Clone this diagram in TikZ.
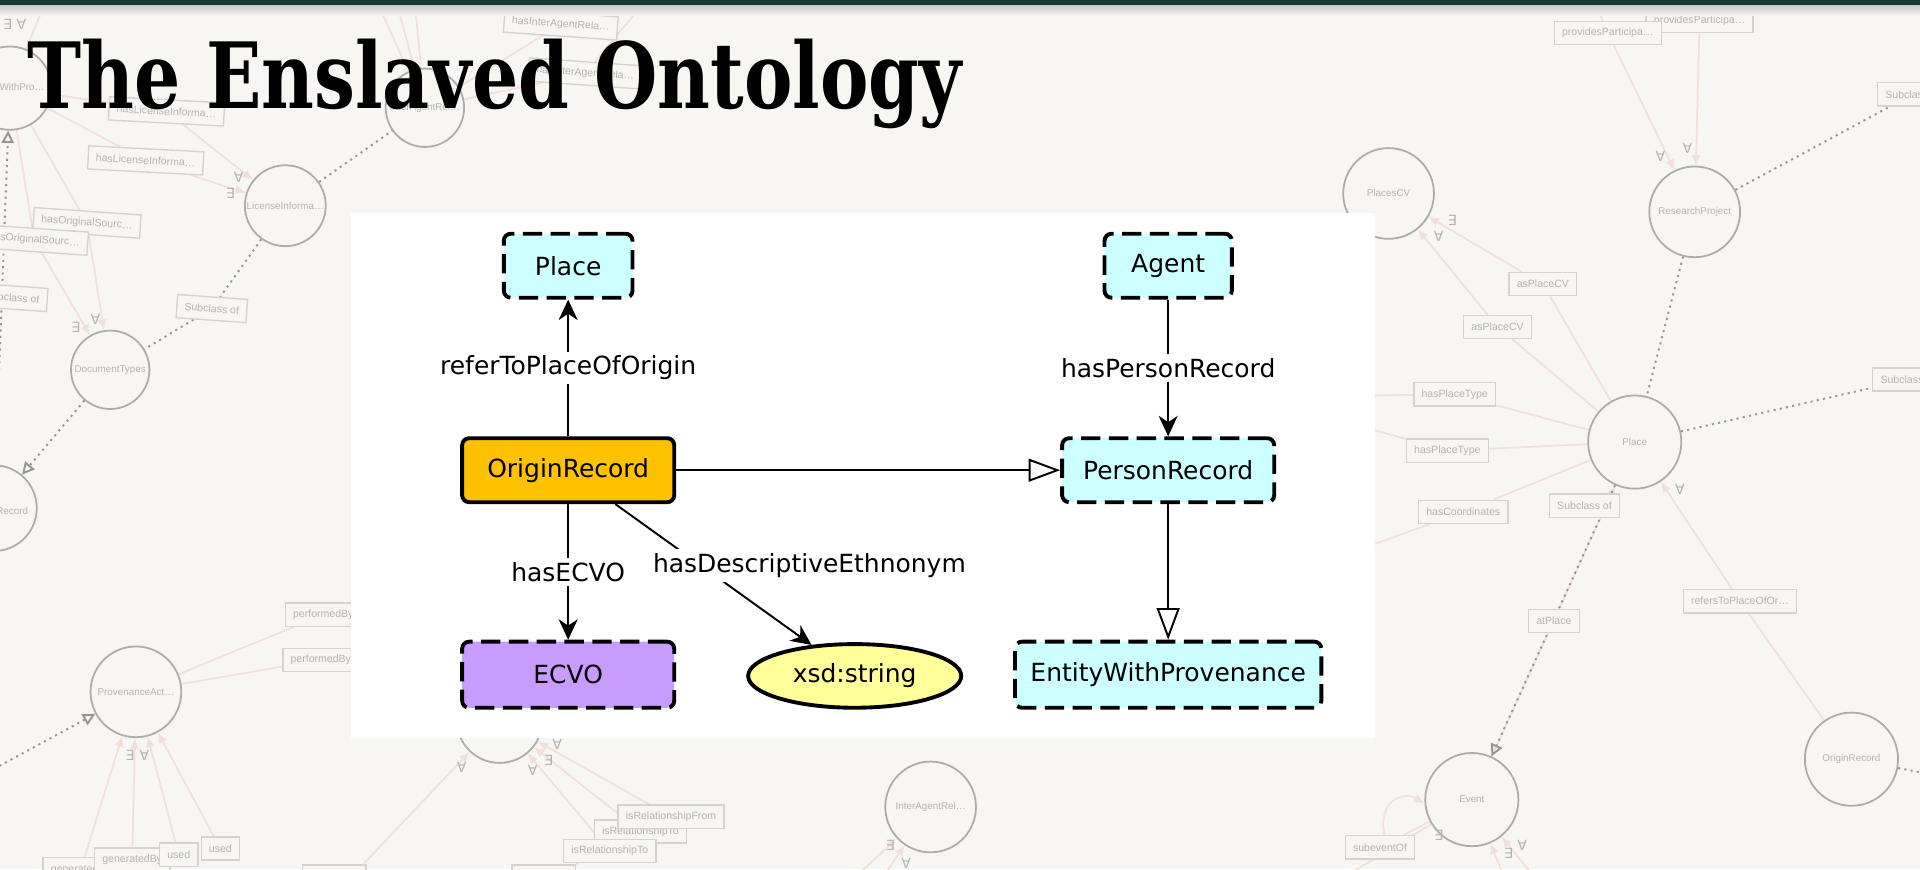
\documentclass[tikz,border=0pt]{standalone}
\usepackage{fontspec}
\usepackage{graphicx}
\usetikzlibrary{arrows.meta,shapes.geometric,positioning}
\setmainfont{DejaVu Sans}
\newfontfamily\slabfont{DejaVu Serif}
\newfontfamily\vowlfont{Liberation Sans}
\newfontfamily\quantfont{DejaVu Sans}

\definecolor{slidebg}{RGB}{248,246,243}
\definecolor{slidebar}{RGB}{23,56,54}
\definecolor{vowlring}{RGB}{172,172,170}
\definecolor{vowltext}{RGB}{182,180,178}
\definecolor{vowlframe}{RGB}{214,210,207}
\definecolor{vowlprop}{RGB}{241,224,218}
\definecolor{vowldots}{RGB}{150,150,150}
\definecolor{owlcyan}{RGB}{204,255,255}
\definecolor{owlgold}{RGB}{255,194,0}
\definecolor{owlpurple}{RGB}{200,155,255}
\definecolor{owlyellow}{RGB}{255,255,153}

\pgfdeclarelayer{back}
\pgfdeclarelayer{links}
\pgfsetlayers{back,links,main}

\tikzset{
  vowlclass/.style={circle, draw=vowlring, line width=0.5pt, fill=slidebg, text=vowltext,
    font=\vowlfont\fontsize{2.8}{3}\selectfont, inner sep=0pt},
  vowlbox/.style={rectangle, draw=vowlframe, line width=0.4pt, fill=slidebg, text=vowltext,
    font=\vowlfont\fontsize{3}{3.4}\selectfont, minimum height=6.6pt, inner xsep=2.2pt, inner ysep=0pt},
  vowlq/.style={text=vowltext, font=\quantfont\fontsize{4}{4}\selectfont, inner sep=0pt},
  vowlline/.style={draw=vowlprop, line width=0.5pt},
  vowlarrow/.style={vowlline, -{Latex[length=3pt,width=2.6pt]}},
  vowlsub/.style={draw=vowldots, line width=0.55pt, dash pattern=on 0.6pt off 1.2pt},
  vowltri/.style={vowlsub, -{Triangle[open,length=3.5pt,width=3.5pt]}},
  owlbox/.style={rectangle, rounded corners=2pt, draw=black, line width=1.1pt,
    font=\fontsize{7.1}{8.5}\selectfont, inner sep=0pt, minimum height=18.2pt},
  owldashed/.style={owlbox, dash pattern=on 5.5pt off 2.4pt, fill=owlcyan},
  owllbl/.style={fill=white, inner sep=1.2pt, font=\fontsize{7.1}{8.5}\selectfont},
  owledge/.style={draw=black, line width=0.55pt},
  owlarrow/.style={owledge, -{Stealth[length=5.8pt,width=5.4pt,inset=1.8pt]}},
  owlsub/.style={owledge, -{Triangle[length=9pt,width=6.5pt,fill=white]}}
}

\begin{document}
\begin{tikzpicture}[x=0.012245cm,y=-0.012245cm]
\useasboundingbox (0,0) rectangle (1568,710);
\clip (0,0) rectangle (1568,710);
\begin{pgfonlayer}{back}
  \fill[slidebg] (0,0) rectangle (1568,710);
\end{pgfonlayer}

\foreach \n/\x/\y/\d/\t in {
  ewp/8/72/23.7pt/EntityWithPro\ldots,
  licinfo/233/168/23pt/LicenseInforma\ldots,
  doctypes/90/302/22.3pt/DocumentTypes,
  record/-5/415/24.4pt/,
  interagent1/347/88/22.3pt/InterAgentRel\ldots,
  provact/111/565/25.8pt/ProvenanceAct\ldots,
  midcirc/408/588/24.4pt/,
  interagent2/760/659/25.8pt/InterAgentRel\ldots,
  placescv/1134/158/25.8pt/PlacesCV,
  research/1384/173/25.8pt/ResearchProject,
  placebg/1335/361/26.5pt/Place,
  event/1202/653/26.5pt/Event,
  originbg/1512/620/26.5pt/OriginRecord}
  \node[vowlclass, minimum size=\d] (\n) at (\x,\y) {\t};
\node[vowlq, font=\vowlfont\fontsize{2.8}{3}\selectfont] (recordname) at (10,417) {Record};

\coordinate (top1) at (40,-5);
\coordinate (top2) at (305,-5);
\coordinate (top3) at (322,-5);
\coordinate (top4) at (338,-5);
\coordinate (top5) at (512,-5);
\coordinate (top6) at (532,-5);
\coordinate (top7) at (1300,-5);
\coordinate (top8) at (1386,-5);
\coordinate (left1) at (-5,628);
\coordinate (bot1) at (288,715);
\coordinate (bot2) at (700,715);
\coordinate (bot3) at (722,715);
\coordinate (bot4) at (1100,715);
\coordinate (bot5) at (1228,715);
\coordinate (bot6) at (1252,715);
\coordinate (right1) at (1575,632);
\coordinate (edge1) at (1118,323);
\coordinate (edge2) at (1118,350);
\coordinate (edge3) at (1118,446);

\foreach \n/\x/\y/\r/\t in {
  lic1/136/91/-3/hasLicenseInforma\ldots,
  lic2/119/131/-3/hasLicenseInforma\ldots,
  orig1/71/182/-4/hasOriginalSourc\ldots,
  orig2/28/196/-4/hasOriginalSourc\ldots,
  sub1/10/243/-4/Subclass of,
  sub2/173/252/-4/Subclass of,
  iar1/458/20/-4/hasInterAgentRela\ldots,
  iar2/478/60/-4/hasInterAgentRela\ldots,
  perf1/264/502/0/performedBy,
  perf2/262/539/0/performedBy,
  gen1/66/710/0/generatedBy,
  gen2/108/702/0/generatedBy,
  used1/146/698/0/used,
  used2/180/693/0/used,
  relto1/523/679/0/isRelationshipTo,
  relfrom/548/667/0/isRelationshipFrom,
  relto2/498/695/0/isRelationshipTo,
  pp2/1388/17/0/providesParticipa\ldots,
  pp1/1313/27/0/providesParticipa\ldots,
  subcla1/1562/77/0/Subclass of,
  aspcv1/1260/232/0/asPlaceCV,
  aspcv2/1223/267/0/asPlaceCV,
  hpt1/1188/322/0/hasPlaceType,
  hpt2/1182/368/0/hasPlaceType,
  hcoord/1195/418/0/hasCoordinates,
  subcl2/1294/413/0/Subclass of,
  subcl3/1558/310/0/Subclass of,
  atplace/1269/507/0/atPlace,
  refers/1421/491/0/refersToPlaceOfOr\ldots,
  subevent/1127/692/0/subeventOf}
  \node[vowlbox, rotate=\r] (\n) at (\x,\y) {\t};
\node[vowlbox, minimum width=18pt] (bx1) at (273,716) {};
\node[vowlbox, minimum width=18pt] (bx2) at (444,716) {};

\foreach \n/\x/\y/\s in {
  qa/12/20/∃ ∀, qb/195/145/∀, qc/188/158/∃, qd/62/267/∃, qe/78/261/∀,
  qf/106/617/∃, qg/118/617/∀, qh/377/627/∀, qi/435/629/∀, qj/448/621/∃,
  qk/455/608/∀, ql/727/690/∃, qm/740/705/∀, qn/1356/128/∀, qo/1378/121/∀,
  qp/1186/180/∃, qq/1175/193/∀, qr/1372/400/∀, qs/1232/697/∃, qt/1243/690/∀,
  qu/1175/682/∃}
  \node[vowlq] (\n) at (\x,\y) {\s};

\begin{pgfonlayer}{links}
  \foreach \a/\b in {ewp/lic1, ewp/lic2, ewp/orig1, ewp/orig2, ewp/top1,
    interagent1/top2, interagent1/top3, interagent1/top4, interagent1/iar1,
    interagent1/iar2, iar1/top5, iar2/top6, provact/perf1, provact/perf2,
    pp1/top7, pp2/top8, placebg/aspcv1, placebg/aspcv2, placebg/hpt1,
    placebg/hpt2, placebg/hcoord, hpt1/edge1, hpt2/edge2, hcoord/edge3,
    originbg/refers, event/atplace, event/subevent, event/bot4, relto2/bx2}
    \draw[vowlline] (\a) -- (\b);
  \foreach \a/\b in {lic1/licinfo, lic2/licinfo, orig1/doctypes, orig2/doctypes,
    gen1/provact, gen2/provact, used1/provact, used2/provact, bot1/midcirc,
    relto2/midcirc, relto1/midcirc, relfrom/midcirc, bot2/interagent2,
    bot3/interagent2, pp1/research, pp2/research, aspcv1/placescv,
    aspcv2/placescv, refers/placebg, atplace/placebg, bot5/event, bot6/event}
    \draw[vowlarrow] (\a) -- (\b);
  \draw[vowlarrow] (subevent.70) .. controls (1125,655) and (1145,645) .. (event.185);
  \foreach \a/\b in {licinfo/sub2, sub2/doctypes, licinfo/interagent1,
    research/subcla1, research/placebg, placebg/subcl3, originbg/right1}
    \draw[vowlsub] (\a) -- (\b);
  \foreach \a/\b in {record/ewp, doctypes/record, left1/provact, placebg/event}
    \draw[vowltri] (\a) -- (\b);
\end{pgfonlayer}

\fill[white] (287,174) rectangle (1123,603);

\node[owldashed, minimum width=36.6pt] (place) at (464,217) {Place};
\node[owldashed, minimum width=36.2pt] (agent) at (954,217) {Agent};
\node[owlbox, fill=owlgold, minimum width=60.3pt] (origin) at (464,384) {OriginRecord};
\node[owldashed, minimum width=60.3pt] (person) at (954,384) {PersonRecord};
\node[owldashed, fill=owlpurple, minimum width=60.3pt, minimum height=18.8pt] (ecvo) at (464,551) {ECVO};
\node[ellipse, draw=black, line width=1.1pt, fill=owlyellow, minimum width=60.6pt,
  minimum height=18.1pt, inner sep=0pt, font=\fontsize{7.1}{8.5}\selectfont] (xsd) at (698,552) {xsd:string};
\node[owldashed, minimum width=87.1pt, minimum height=18.8pt] (ewprov) at (954,551) {EntityWithProvenance};

\draw[owlarrow] (origin) -- node[owllbl] (placelbl) {referToPlaceOfOrigin} (place);
\draw[owlarrow] (agent) -- node[owllbl] (personlbl) {hasPersonRecord} (person);
\draw[owlsub] (origin) -- (person);
\draw[owlsub] (person) -- (ewprov);
\draw[owlarrow] (origin) -- node[owllbl] (ecvolbl) {hasECVO} (ecvo);
\draw[owlarrow] (origin) -- (xsd);
\node[owllbl] (ethnlbl) at (661,462) {hasDescriptiveEthnonym};

\node[anchor=base west, inner sep=0pt] (title) at (22,89)
  {\scalebox{0.795}[1]{\slabfont\bfseries\fontsize{26}{30}\selectfont The Enslaved Ontology}};

\shade[top color=black!22, bottom color=slidebg] (0,4) rectangle (1568,13);
\fill[slidebar] (0,0) rectangle (1568,4);
\end{tikzpicture}
\end{document}
